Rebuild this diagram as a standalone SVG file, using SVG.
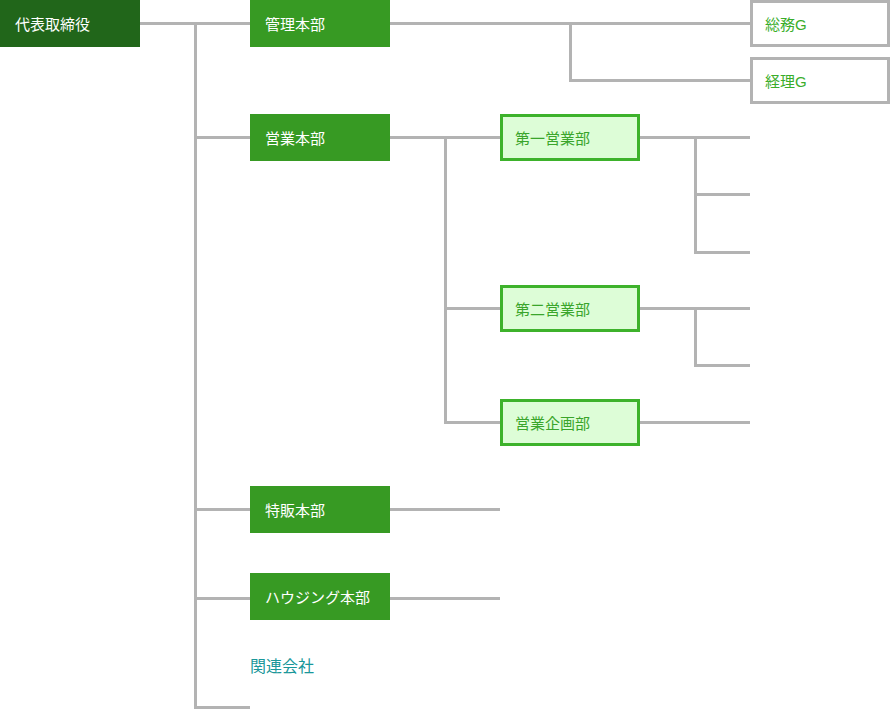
<svg xmlns="http://www.w3.org/2000/svg" width="890" height="727" viewBox="0 0 890 727">
<style>
text{font-family:"Liberation Sans","Noto Sans CJK JP",sans-serif;font-size:15px;dominant-baseline:central}
.dk{fill:#21661a}
.md{fill:#379a23}
.wt{fill:#ffffff}
.lt{fill:#ddfdd7;stroke:#3db22b;stroke-width:3}
.ltt{fill:#3aa52b}
.gb{fill:#ffffff;stroke:#b3b3b3;stroke-width:3}
.gt{fill:#3aad2a}
.ln{stroke:#b3b3b3;stroke-width:3;fill:none}
</style>
<g id="connectors">
<path class="ln" d="M140 23.5H250M195.5 23.5V707.5H250M195.5 137.5H250M195.5 509.5H250M195.5 598.5H250"/>
<path class="ln" d="M390 23.5H751M570.5 23.5V80.5H751"/>
<path class="ln" d="M390 137.5H500M445.5 137.5V422.5H500M445.5 308.5H500"/>
<path class="ln" d="M640 137.5H750M695.5 137.5V252.5H750M695.5 194.5H750"/>
<path class="ln" d="M640 308.5H750M695.5 308.5V365.5H750"/>
<path class="ln" d="M640 422.5H750"/>
<path class="ln" d="M390 509.5H500M390 598.5H500"/>
</g>
<g id="n-daihyo"><rect class="dk" x="0" y="0" width="140" height="47"/><text class="wt" x="15" y="24">代表取締役</text></g>
<g id="n-kanri"><rect class="md" x="250" y="0" width="140" height="47"/><text class="wt" x="265" y="24">管理本部</text></g>
<g id="n-somu"><rect class="gb" x="751.5" y="1.5" width="137" height="44"/><text class="gt" x="765" y="24">総務G</text></g>
<g id="n-keiri"><rect class="gb" x="751.5" y="58.5" width="137" height="44"/><text class="gt" x="765" y="81">経理G</text></g>
<g id="n-eigyo"><rect class="md" x="250" y="114" width="140" height="47"/><text class="wt" x="265" y="138">営業本部</text></g>
<g id="n-dai1"><rect class="lt" x="501.5" y="115.5" width="137" height="44"/><text class="ltt" x="515" y="138">第一営業部</text></g>
<g id="n-dai2"><rect class="lt" x="501.5" y="286.5" width="137" height="44"/><text class="ltt" x="515" y="309">第二営業部</text></g>
<g id="n-kikaku"><rect class="lt" x="501.5" y="400.5" width="137" height="44"/><text class="ltt" x="515" y="423">営業企画部</text></g>
<g id="n-tokuhan"><rect class="md" x="250" y="486" width="140" height="47"/><text class="wt" x="265" y="510">特販本部</text></g>
<g id="n-housing"><rect class="md" x="250" y="573" width="140" height="47"/><text class="wt" x="265" y="597">ハウジング本部</text></g>
<g id="n-kanren"><text x="250" y="666" style="fill:#1a979a;font-size:16px">関連会社</text></g>
</svg>
